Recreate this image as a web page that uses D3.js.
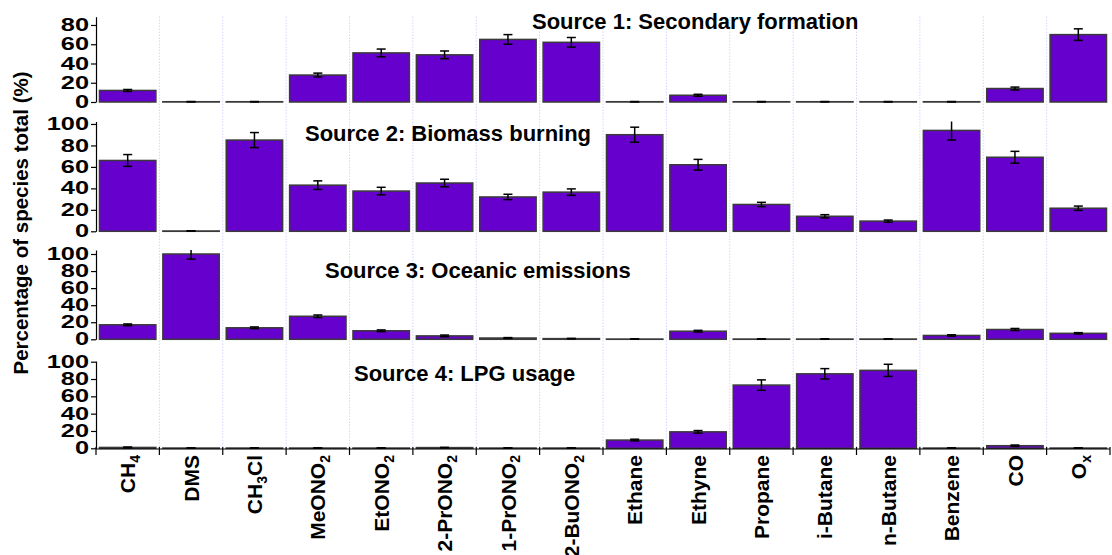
<!DOCTYPE html>
<html>
<head>
<meta charset="utf-8">
<script src="https://cdn.jsdelivr.net/npm/d3@7"></script>
<style>
  html, body { margin: 0; padding: 0; background: #fff; }
  svg { display: block; font-family: "Liberation Sans", Arial, sans-serif; }
</style>
</head>
<body>
<svg id="chart" width="1112" height="555"></svg>
<script>
// ---------------- DATA ----------------
const categories = ["CH4","DMS","CH3Cl","MeONO2","EtONO2","2-PrONO2","1-PrONO2","2-BuONO2",
                    "Ethane","Ethyne","Propane","i-Butane","n-Butane","Benzene","CO","Ox"];
// label markup: {..} = subscript
const categoryLabels = ["CH{4}","DMS","CH{3}Cl","MeONO{2}","EtONO{2}","2-PrONO{2}","1-PrONO{2}","2-BuONO{2}",
                        "Ethane","Ethyne","Propane","i-Butane","n-Butane","Benzene","CO","O{x}"];

const sourceTitles = ["Source 1: Secondary formation","Source 2: Biomass burning",
                      "Source 3: Oceanic emissions","Source 4: LPG usage"];

const source1Values = [12, 0.3, 0.3, 28, 51, 49, 65, 62, 0.3, 7, 0.3, 0.3, 0.3, 0.3, 14, 70];
const source1Errors = [1, 0.2, 0.2, 2, 4, 4, 5, 5, 0.2, 1, 0.2, 0.2, 0.2, 0.2, 1.5, 6];

const source2Values = [66, 0.3, 85, 43, 37.5, 45, 32, 36.5, 90, 62, 25, 14, 9.5, 94, 69, 21.5];
const source2Errors = [5.5, 0.2, 7, 4, 3.5, 3.5, 2.5, 3, 7, 5, 2, 1.5, 1, 9, 5.5, 2];

const source3Values = [17, 100, 13.5, 27, 10, 4, 1.5, 0.8, 0.3, 9.5, 0.3, 0.3, 0.3, 4.5, 11.5, 7];
const source3Errors = [1, 6, 1, 1.5, 1, 1, 0.5, 0.3, 0.2, 1, 0.2, 0.2, 0.2, 0.8, 1.2, 0.8];

const source4Values = [1, 0.3, 0.3, 0.3, 0.3, 0.8, 0.3, 0.3, 9.5, 19, 73, 86, 90, 0.3, 3, 0.3];
const source4Errors = [0.5, 0.2, 0.2, 0.2, 0.2, 0.3, 0.2, 0.2, 1, 1.5, 6, 6, 7, 0.2, 0.8, 0.2];

const yTicks1 = [0, 20, 40, 60, 80];
const yTicksOther = [0, 20, 40, 60, 80, 100];
const yLabel = "Percentage of species total (%)";

// ---------------- LAYOUT ----------------
const svg = d3.select("#chart");
const xLeft = 96, xRight = 1110;
const fill = "#6600cc";

const panels = [
  { title: sourceTitles[0], values: source1Values, errors: source1Errors, ticks: yTicks1,    yBase: 102,   yTop: 16.7, dmax: 88.6,  tx: 532, ty: 29 },
  { title: sourceTitles[1], values: source2Values, errors: source2Errors, ticks: yTicksOther, yBase: 231.3, yTop: 121.5, dmax: 102.3, tx: 305, ty: 141 },
  { title: sourceTitles[2], values: source3Values, errors: source3Errors, ticks: yTicksOther, yBase: 339.3, yTop: 250,   dmax: 104.7, tx: 325, ty: 278 },
  { title: sourceTitles[3], values: source4Values, errors: source4Errors, ticks: yTicksOther, yBase: 448.3, yTop: 361,   dmax: 100.8, tx: 354, ty: 381 }
];

const x = d3.scaleBand().domain(categories).range([xLeft, xRight])
  .paddingInner(0.11).paddingOuter(0.055);
const step = x.step();

// vertical dotted gridlines at category boundaries
const gridG = svg.append("g");
categories.slice(1).forEach(c => {
  const bx = x(c) - x.paddingInner() * step / 2;
  gridG.append("line")
    .attr("x1", bx).attr("x2", bx)
    .attr("y1", 16.7).attr("y2", 449)
    .attr("stroke", "#c0c0ff").attr("stroke-width", 1)
    .attr("stroke-dasharray", "1,2");
});

panels.forEach(p => {
  const y = d3.scaleLinear().domain([0, p.dmax]).range([p.yBase, p.yTop]);
  const g = svg.append("g");

  // title
  g.append("text")
    .attr("x", p.tx).attr("y", p.ty)
    .attr("font-size", 22).attr("font-weight", "bold")
    .attr("fill", "#000")
    .text(p.title);

  // bars
  g.selectAll("rect.bar").data(categories).enter().append("rect")
    .attr("class", "bar")
    .attr("x", c => x(c))
    .attr("width", x.bandwidth())
    .attr("y", (c, i) => y(p.values[i]))
    .attr("height", (c, i) => y(0) - y(p.values[i]))
    .attr("fill", fill)
    .attr("stroke", "#3a3a3a")
    .attr("stroke-width", 1.5);

  // error bars
  const eb = g.selectAll("g.err").data(categories).enter().append("g").attr("class", "err");
  eb.each(function(c, i) {
    const cx = x(c) + x.bandwidth() / 2;
    const v = p.values[i], e = p.errors[i];
    const clipped = (v + e) > p.dmax;
    const top = clipped ? p.yTop : y(v + e);
    const bot = y(Math.max(0, v - e));
    const s = d3.select(this);
    s.append("line").attr("x1", cx).attr("x2", cx).attr("y1", top).attr("y2", bot)
      .attr("stroke", "#000").attr("stroke-width", 1.5);
    if (!clipped) {
      s.append("line").attr("x1", cx - 4.5).attr("x2", cx + 4.5).attr("y1", top).attr("y2", top)
        .attr("stroke", "#000").attr("stroke-width", 1.5);
    }
    s.append("line").attr("x1", cx - 4.5).attr("x2", cx + 4.5).attr("y1", bot).attr("y2", bot)
      .attr("stroke", "#000").attr("stroke-width", 1.5);
  });

  // left axis
  const ax = g.append("g")
    .attr("transform", `translate(${xLeft},0)`)
    .call(d3.axisLeft(y).tickValues(p.ticks).tickSize(5).tickSizeOuter(0).tickPadding(2));
  ax.select(".domain").attr("stroke", "#000").attr("stroke-width", 1.2);
  ax.selectAll(".tick line").attr("stroke", "#000").attr("stroke-width", 1.2);
  ax.selectAll(".tick text")
    .attr("x", 0)
    .attr("transform", "translate(-7,0) scale(1.45,1)")
    .attr("font-size", 17.5).attr("font-weight", "bold")
    .attr("font-family", "'Liberation Sans', Arial, sans-serif")
    .attr("fill", "#000");
});

// bottom x axis
const axisY = 449;
const xAxisG = svg.append("g");
xAxisG.append("line").attr("x1", xLeft).attr("x2", xRight).attr("y1", axisY).attr("y2", axisY)
  .attr("stroke", "#000").attr("stroke-width", 1.2);
const boundaries = categories.map(c => x(c) - x.paddingInner() * step / 2).concat([xRight]);
boundaries.forEach(bx => {
  xAxisG.append("line").attr("x1", bx).attr("x2", bx).attr("y1", axisY - 2).attr("y2", axisY + 6)
    .attr("stroke", "#000").attr("stroke-width", 1.2);
});

// category labels (rotated, with subscripts)
categoryLabels.forEach((lab, i) => {
  const cx = x(categories[i]) + x.bandwidth() / 2;
  const t = xAxisG.append("text")
    .attr("transform", `translate(${cx},${axisY + 6}) rotate(-90)`)
    .attr("text-anchor", "end")
    .attr("dy", "0.36em")
    .attr("font-size", 21).attr("font-weight", "bold")
    .attr("fill", "#000");
  const parts = lab.split(/(\{[^}]*\})/).filter(s => s.length);
  let shifted = false;
  parts.forEach(part => {
    if (part.startsWith("{")) {
      t.append("tspan").attr("font-size", 14).attr("dy", "0.35em").text(part.slice(1, -1));
      shifted = true;
    } else {
      const ts = t.append("tspan").text(part);
      if (shifted) { ts.attr("dy", "-0.24em"); shifted = false; }
    }
  });
});

// y axis title
svg.append("text")
  .attr("transform", "translate(28,223) rotate(-90)")
  .attr("text-anchor", "middle")
  .attr("font-size", 20.5).attr("font-weight", "bold")
  .attr("fill", "#000")
  .text(yLabel);
</script>
</body>
</html>
